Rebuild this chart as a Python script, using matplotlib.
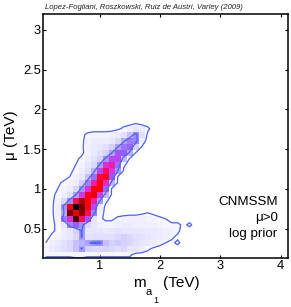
import matplotlib
matplotlib.use("Agg")
import matplotlib.pyplot as plt
import numpy as np
from matplotlib.colors import LinearSegmentedColormap

plt.rcParams['font.family'] = ['Liberation Sans', 'DejaVu Sans']
plt.rcParams['mathtext.default'] = 'regular'

TITLE = "Lopez-Fogliani, Roszkowski, Ruiz de Austri, Varley (2009)"
X_TICKS = [1, 2, 3, 4]
Y_TICKS = [0.5, 1, 1.5, 2, 2.5, 3]
Y_TICK_LABELS = ["0.5", "1", "1.5", "2", "2.5", "3"]
NOTES = ["CNMSSM", "\u03bc>0", "log prior"]
CONTOUR_LEVELS = [2, 27]

# first column centre and bin widths, TeV
X0, DX = 0.10, 0.0995
Y0, DY = 0.095, 0.0755

# posterior density per bin (percent of peak); top row first, bottom row last
density = [
 [0,0,0,0,0,0,0,0,0,0,0,0,0,0,0,1,0,0,0,0,0,0,0,0,0,0],
 [0,0,0,0,0,0,0,0,0,0,0,0,1,3,5,8,6,3,0,0,0,0,0,0,0,0],
 [0,0,0,0,0,0,1,3,4,4,4,5,7,9,18,32,10,1,0,0,0,0,0,0,0,0],
 [0,0,0,0,0,0,1,4,6,6,6,8,12,24,36,34,6,0,0,0,0,0,0,0,0,0],
 [0,0,0,0,0,0,1,5,7,8,10,14,26,38,42,14,2,0,0,0,0,0,0,0,0,0],
 [0,0,0,0,0,0,1,4,7,10,14,26,46,44,24,2,0,0,0,0,0,0,0,0,0,0],
 [0,0,0,0,0,1,3,6,9,14,30,50,50,20,1,0,0,0,0,0,0,0,0,0,0,0],
 [0,0,0,0,0,2,4,8,12,28,56,60,40,3,0,0,0,0,0,0,0,0,0,0,0,0],
 [0,0,0,0,1,3,6,10,22,50,66,54,28,1,0,0,0,0,0,0,0,0,0,0,0,0],
 [0,0,0,0,2,5,8,18,40,68,70,46,2,0,0,0,0,0,0,0,0,0,0,0,0,0],
 [0,0,1,3,4,6,14,34,60,72,58,22,1,0,0,0,0,0,0,0,0,0,0,0,0,0],
 [0,0,2,4,6,12,30,56,72,72,42,1,0,0,0,0,0,0,0,0,0,0,0,0,0,0],
 [0,1,3,5,10,26,54,72,74,52,20,1,0,0,0,0,0,0,0,0,0,0,0,0,0,0],
 [0,1,4,12,32,66,82,72,60,28,3,0,0,0,0,0,0,0,0,0,0,0,0,0,0,0],
 [0,1,5,30,74,100,88,72,48,6,1,0,0,0,0,0,0,0,0,0,0,0,0,0,0,0],
 [0,1,5,24,88,76,86,66,34,4,1,0,0,0,0,0,1,2,1,0,0,0,0,0,0,0],
 [0,1,4,36,56,92,66,48,8,3,1,1,3,4,5,5,5,4,4,3,2,0,0,0,0,0],
 [0,1,3,8,34,44,32,12,8,5,4,4,5,6,6,5,5,5,5,4,3,3,3,1,3,0],
 [0,1,3,6,8,14,28,8,8,8,7,8,9,8,8,8,8,7,7,6,5,4,3,0,0,0],
 [0,3,4,6,8,12,28,9,10,10,10,10,12,14,12,10,9,8,7,6,5,3,1,0,0,0],
 [2,5,7,9,12,18,22,26,29,30,18,14,16,14,12,10,8,7,6,4,2,1,3,0,0,0],
 [3,6,8,10,12,18,28,14,12,12,14,12,10,12,8,8,6,3,1,0,0,0,0,0,0,0],
 [3,3,3,3,3,4,4,3,3,3,3,3,3,3,3,0,0,0,0,0,0,0,0,0,0,0],
 [0,0,0,0,0,0,0,0,0,0,0,0,0,0,0,0,0,0,0,0,0,0,0,0,0,0],
]

cmap = LinearSegmentedColormap.from_list("post", [
    (0.00, (1, 1, 1)), (0.10, (.88, .87, 1)), (0.30, (.62, .58, 1)),
    (0.45, (.60, .35, 1)), (0.55, (.85, .20, .90)), (0.65, (1, .05, .40)),
    (0.72, (1, 0, .05)), (0.85, (.60, 0, 0)), (1.00, (0, 0, 0))])

z = np.array(density, dtype=float)[::-1]
xc = X0 + DX * np.arange(z.shape[1])
yc = Y0 + DY * np.arange(z.shape[0])

fig = plt.figure(figsize=(2.91, 3.07), dpi=100)
ax = fig.add_axes([43 / 291, 1 - 258 / 307, 245 / 291, 244 / 307])
ax.pcolormesh(xc, yc, z, cmap=cmap, vmin=0, vmax=100, shading='nearest')
ax.contour(xc, yc, z, levels=CONTOUR_LEVELS, colors=[(.30, .38, .95)], linewidths=0.9)

ax.set_xlim(0.055, 4.12)
ax.set_ylim(0.13, 3.2)
ax.set_xticks(X_TICKS)
ax.set_yticks(Y_TICKS)
ax.set_yticklabels(Y_TICK_LABELS)
ax.tick_params(direction='in', top=True, right=True, length=2.5, width=0.8,
               labelsize=9.3, pad=1.5)
for s in ax.spines.values():
    s.set_linewidth(1.1)

ax.set_ylabel("\u03bc (TeV)", fontsize=11)
ax.yaxis.set_label_coords(-0.102, 0.505)

# x label: stepped subscripts drawn as separate pieces, placed in figure pixels
def fig_text(px, py, s, size):
    fig.text(px / 291, 1 - py / 307, s, fontsize=size, ha='left', va='baseline')
fig_text(133, 287, "m", 11)
fig_text(146, 295, "a", 8)
fig_text(153, 303, "1", 6.5)
fig_text(163, 287, "(TeV)", 11)

ax.text(0.008, 1.012, TITLE, transform=ax.transAxes, fontsize=5.6, style='italic',
        ha='left', va='bottom', color='#222222')
for note, yp in zip(NOTES, [0.229, 0.164, 0.098]):
    ax.text(0.958, yp, note, transform=ax.transAxes, ha='right', va='center', fontsize=9.6)

fig.savefig("out.png", dpi=100)
